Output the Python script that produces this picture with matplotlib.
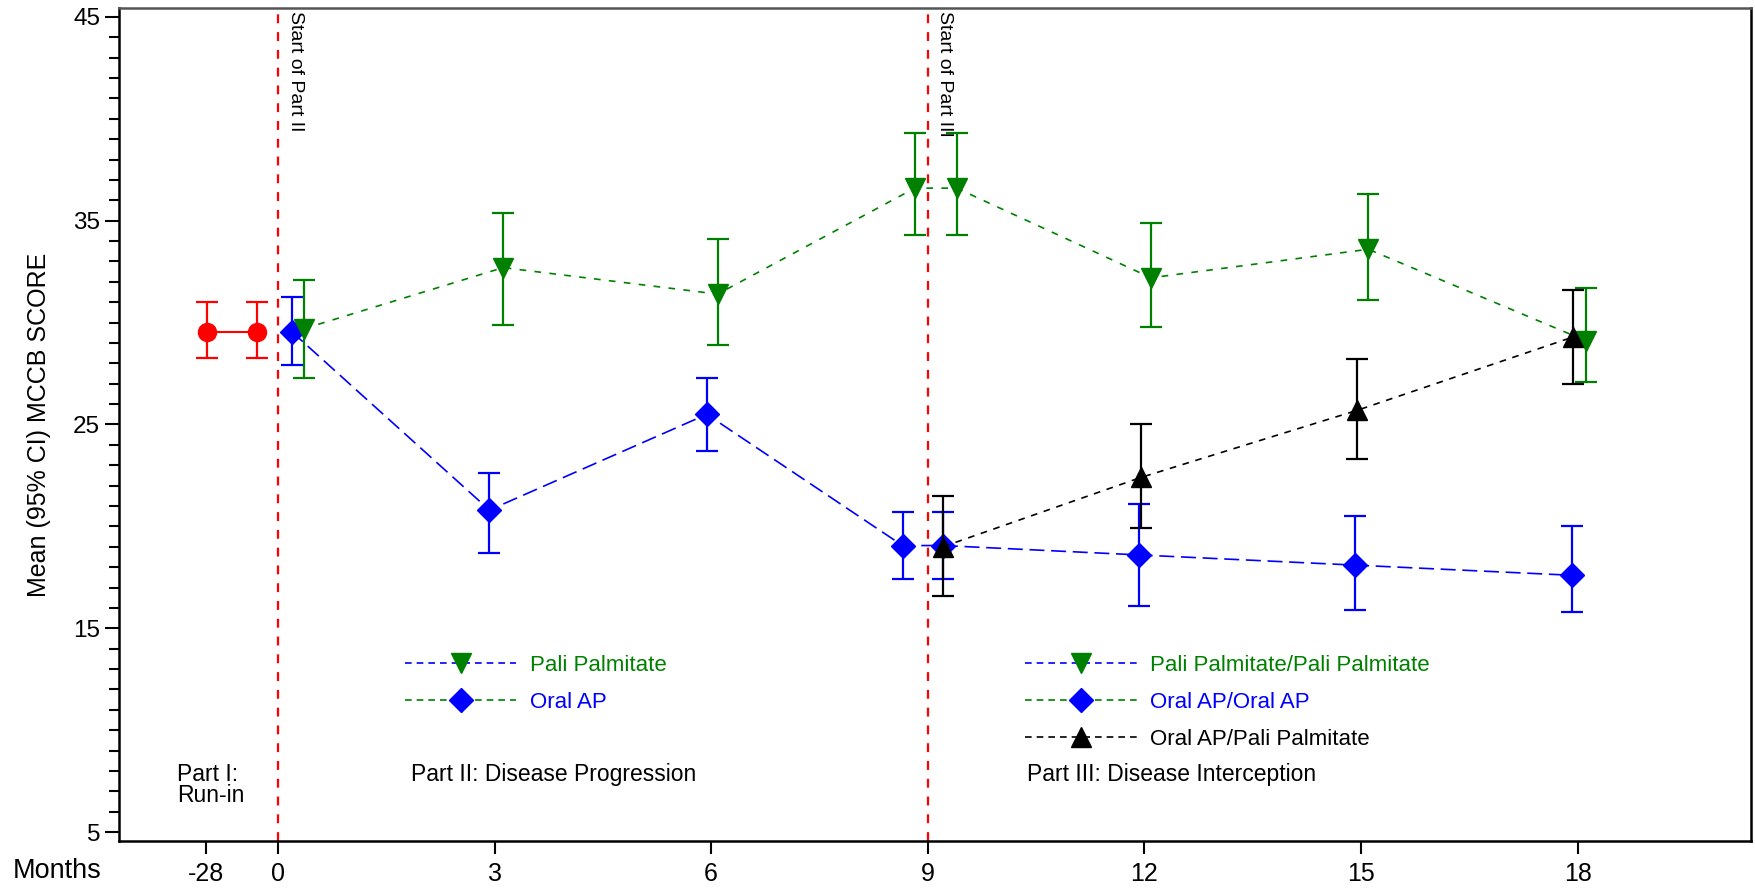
import matplotlib
matplotlib.use("Agg")
import matplotlib.pyplot as plt
from matplotlib.lines import Line2D
import numpy as np

plt.rcParams['font.family'] = ['Liberation Sans', 'DejaVu Sans']

# ---- data ----
tick_pos = [-1.0, 0, 3, 6, 9, 12, 15, 18]
tick_labels = ['-28', '0', '3', '6', '9', '12', '15', '18']

runin_x = [-0.98, -0.29]
runin_y = [29.56, 29.56]
runin_lo = [28.24, 28.24]
runin_hi = [31.0, 31.0]

oral_x = [0.19, 2.93, 5.94, 8.65, 9.21, 11.92, 14.91, 17.92]
oral_y = [29.56, 20.8, 25.5, 19.06, 19.06, 18.6, 18.1, 17.6]
oral_lo = [27.9, 18.7, 23.7, 17.4, 17.4, 16.1, 15.9, 15.8]
oral_hi = [31.27, 22.6, 27.3, 20.7, 20.7, 21.1, 20.5, 20.0]

pali_x = [0.36, 3.12, 6.09, 8.82, 9.40, 12.09, 15.10, 18.12]
pali_y = [29.7, 32.7, 31.4, 36.6, 36.6, 32.2, 33.6, 29.1]
pali_lo = [27.3, 29.9, 28.9, 34.3, 34.3, 29.8, 31.1, 27.1]
pali_hi = [32.1, 35.4, 34.1, 39.3, 39.3, 34.9, 36.3, 31.7]

switch_x = [9.21, 11.95, 14.95, 17.94]
switch_y = [19.0, 22.4, 25.7, 29.3]
switch_lo = [16.6, 19.9, 23.3, 27.0]
switch_hi = [21.5, 25.0, 28.2, 31.6]

part_starts = [0, 9]

GREEN = '#008000'
BLUE = '#0000ff'
RED = '#ff0000'
BLACK = '#000000'

fig = plt.figure(figsize=(17.56, 8.89), dpi=100)
ax = fig.add_axes([119/1756, 1-841/889, (1751-119)/1756, (841-8)/889])

def errs(y, lo, hi):
    y = np.array(y); return [y - np.array(lo), np.array(hi) - y]

cap = 8
# run-in
ax.errorbar(runin_x, runin_y, yerr=errs(runin_y, runin_lo, runin_hi), color=RED,
            marker='o', ms=13, ls='-', lw=1.5, capsize=cap, elinewidth=1.6, capthick=1.6, zorder=4)
# oral AP
ax.errorbar(oral_x, oral_y, yerr=errs(oral_y, oral_lo, oral_hi), color=BLUE,
            marker='D', ms=12, ls=(0, (9, 4)), lw=1.2, capsize=cap, elinewidth=1.6,
            capthick=1.6, zorder=4)
# pali
ax.errorbar(pali_x, pali_y, yerr=errs(pali_y, pali_lo, pali_hi), color=GREEN,
            marker='v', ms=15, ls=(0, (4, 5)), lw=1.2, capsize=cap, elinewidth=1.6,
            capthick=1.6, zorder=4)
# switch
ax.errorbar(switch_x, switch_y, yerr=errs(switch_y, switch_lo, switch_hi), color=BLACK,
            marker='^', ms=15, ls=(0, (4, 4)), lw=1.2, capsize=cap, elinewidth=1.6,
            capthick=1.6, zorder=5)

for xs in part_starts:
    ax.axvline(xs, color=RED, ls=(0, (4, 4)), lw=1.6, zorder=2)

ax.text(0.12, 45.3, 'Start of Part II', rotation=270, va='top', ha='left', fontsize=14)
ax.text(9.12, 45.3, 'Start of Part III', rotation=270, va='top', ha='left', fontsize=14)

ax.set_xlim(-2.2, 20.4)
ax.set_ylim(4.56, 45.44)
ax.set_xticks(tick_pos)
ax.set_xticklabels(tick_labels, fontsize=18)
ax.set_yticks([5, 15, 25, 35, 45])
ax.set_yticks(np.arange(5, 46, 1), minor=True)
ax.tick_params(axis='y', which='major', labelsize=17.5, length=10, width=1.5, direction='out')
ax.tick_params(axis='y', which='minor', length=7, width=1.5, direction='out')
ax.tick_params(axis='x', which='major', length=9, width=1.5, pad=6)
ax.set_ylabel('Mean (95% CI) MCCB SCORE', fontsize=18, labelpad=16)
for s in ax.spines.values():
    s.set_linewidth(1.8)
ax.spines['top'].set_color('#555555')

fig.text(0.007, 1-871/889, 'Months', fontsize=19.5, va='center', ha='left')

# part labels
ax.text(-1.39, 8.4, 'Part I:\nRun-in', fontsize=16.5, va='top', ha='left', linespacing=0.9)
ax.text(1.84, 8.4, 'Part II: Disease Progression', fontsize=16.5, va='top', ha='left')
ax.text(10.38, 8.4, 'Part III: Disease Interception', fontsize=16.5, va='top', ha='left')

# legends
h_pali = Line2D([], [], color=BLUE, ls=(0, (4, 3)), lw=1.2, marker='v', ms=15,
                markerfacecolor=GREEN, markeredgecolor=GREEN)
h_oral = Line2D([], [], color=GREEN, ls=(0, (4, 3)), lw=1.2, marker='D', ms=12,
                markerfacecolor=BLUE, markeredgecolor=BLUE)
h_sw = Line2D([], [], color=BLACK, ls=(0, (4, 3)), lw=1.2, marker='^', ms=15,
              markerfacecolor=BLACK, markeredgecolor=BLACK)

leg_kw = dict(loc='upper left', frameon=False, fontsize=16, handlelength=5.0,
              handletextpad=0.6, labelspacing=0.72, borderaxespad=0)
leg1 = ax.legend([h_pali, h_oral], ['Pali Palmitate', 'Oral AP'],
                 bbox_to_anchor=(0.17, 0.234), **leg_kw)
for t, c in zip(leg1.get_texts(), [GREEN, BLUE]):
    t.set_color(c)
ax.add_artist(leg1)
leg2 = ax.legend([h_pali, h_oral, h_sw],
                 ['Pali Palmitate/Pali Palmitate', 'Oral AP/Oral AP', 'Oral AP/Pali Palmitate'],
                 bbox_to_anchor=(0.55, 0.234), **leg_kw)
for t, c in zip(leg2.get_texts(), [GREEN, BLUE, BLACK]):
    t.set_color(c)

fig.savefig('out.png', dpi=100)
